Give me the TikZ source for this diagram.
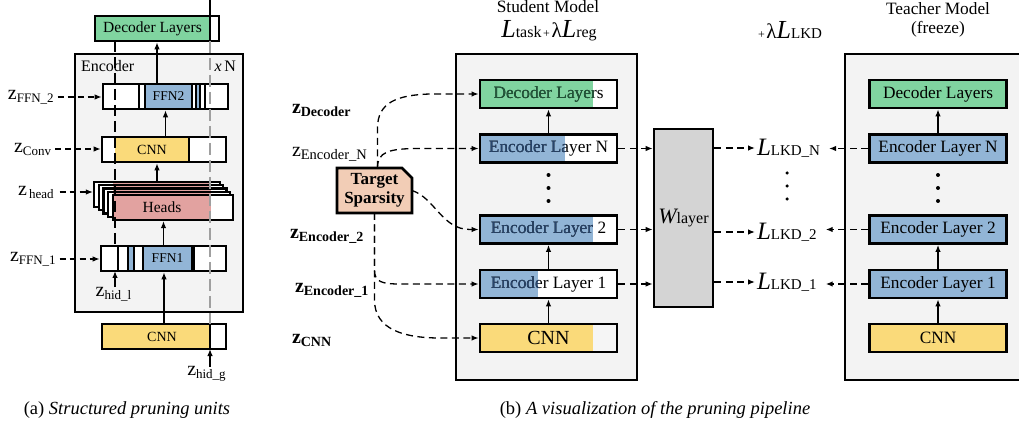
\documentclass[tikz,border=0pt]{standalone}
\usepackage{fontspec}
\setmainfont{Liberation Serif}
\usetikzlibrary{arrows.meta,calc}
\definecolor{cgreen}{RGB}{128,212,160}
\definecolor{cblue}{RGB}{146,181,214}
\definecolor{cyellow}{RGB}{250,218,122}
\definecolor{cpink}{RGB}{226,162,160}
\definecolor{cpeach}{RGB}{242,205,182}
\definecolor{cbg}{RGB}{243,243,243}
\definecolor{cwl}{RGB}{212,212,212}
\definecolor{tgreen}{RGB}{35,90,60}
\definecolor{tblue}{RGB}{40,70,110}
\newcommand\myfs[1]{\fontsize{#1}{#1}\selectfont}
\newcommand\zl[4]{{\myfs{#1}z}\raisebox{-#3}{\myfs{#2}#4}}
\begin{document}
\begin{tikzpicture}[x=1pt,y=-1pt,
  lbl/.style={inner sep=0pt, outer sep=0pt},
  bxA/.style={draw=black, line width=2.6pt, inner sep=0pt},
  bxB/.style={draw=black, line width=2.8pt, inner sep=0pt, minimum width=137, minimum height=28, font=\myfs{17.3}},
  outerbox/.style={draw=black, line width=2.6pt, fill=cbg, inner sep=0pt},
  sepl/.style={line width=1.1pt, black},
  arr/.style={-{Latex[length=7pt,width=5.5pt]}, line width=1.3pt},
  darr/.style={arr, dash pattern=on 7pt off 4.5pt},
  darrA/.style={arr, dash pattern=on 6pt off 4pt},
  dotn/.style={circle, fill=black, inner sep=0pt, minimum size=4pt},
]
\useasboundingbox (0,0) rectangle (1019,427);
\clip (0,0) rectangle (1019,427);
\fill[white] (0,0) rectangle (1019,427);

% ================= panel (a) =================
\node[outerbox, minimum width=168, minimum height=258] (encA) at (159,183) {};
\node[lbl, anchor=west, font=\myfs{16}] (encAl) at (81,66) {Encoder};
\node[lbl, anchor=east, font=\myfs{16}] (encAn) at (236,66) {\textit{x}\,N};

% decoder
\fill[cgreen] (95,16) rectangle (210,41);
\fill[white] (210,16) rectangle (219,41);
\node[bxA, minimum width=124, minimum height=25] (decA) at (157,28.5) {};
\node[lbl, font=\myfs{15.5}] (decAt) at (152.5,28.5) {Decoder Layers};

% FFN2
\fill[white] (103,84) rectangle (228,109);
\fill[cblue] (145,84) rectangle (192,109);
\fill[cblue] (196,84) rectangle (200,109);
\foreach \x in {139,145,192,196,200,205} {\draw[sepl] (\x,84) -- (\x,109);}
\node[bxA, minimum width=125, minimum height=25] (ffn2) at (165.5,96.5) {};
\node[lbl, font=\myfs{13.5}] (ffn2t) at (168.5,96.5) {FFN2};

% CNN in encoder
\fill[white] (102,137) rectangle (226,162);
\fill[cyellow] (115,137) rectangle (189,162);
\draw[sepl] (189,137) -- (189,162);
\node[bxA, minimum width=124, minimum height=25] (cnnA) at (164,149.5) {};
\node[lbl, font=\myfs{14}] (cnnAt) at (152,149.5) {CNN};

% heads stack
\foreach \i in {0,...,4} {
  \pgfmathsetmacro\hL{94+4.75*\i}
  \pgfmathsetmacro\hR{220+3.25*\i}
  \pgfmathsetmacro\hT{182+3.25*\i}
  \pgfmathsetmacro\hW{\hR-\hL}
  \pgfmathsetmacro\hX{(\hL+\hR)/2}
  \pgfmathsetmacro\hY{\hT+12.5}
  \fill[white] (\hL,\hT) rectangle (\hR,\hT+25);
  \fill[cpink] (113,\hT) rectangle (211,\hT+25);
  \node[bxA, line width=2.2pt, minimum width=\hW, minimum height=25] (h\i) at (\hX,\hY) {};
}
\node[lbl, font=\myfs{15.5}] (headt) at (162,207.5) {Heads};

% FFN1
\fill[white] (101,246) rectangle (226,271);
\fill[cblue] (128,246) rectangle (134,271);
\fill[cblue] (143,246) rectangle (192,271);
\foreach \x in {118,128,134,143,192,194} {\draw[sepl] (\x,246) -- (\x,271);}
\node[bxA, minimum width=125, minimum height=25] (ffn1) at (163.5,258.5) {};
\node[lbl, font=\myfs{13.5}] (ffn1t) at (167.5,258.5) {FFN1};

% CNN bottom
\fill[cyellow] (102,324) rectangle (210,349);
\fill[white] (210,324) rectangle (226,349);
\draw[sepl] (210,324) -- (210,349);
\node[bxA, minimum width=124, minimum height=25] (cnnB) at (164,336.5) {};
\node[lbl, font=\myfs{14}] (cnnBt) at (162,336.5) {CNN};

% guide lines
\draw[line width=1.2pt, dash pattern=on 11pt off 5pt] (115,41) -- (115,246);
\draw[line width=1.2pt, gray!75, dash pattern=on 12pt off 5pt] (210,41) -- (210,324);
\draw[line width=1.2pt] (210,0) -- (210,16);
\draw[sepl] (210,16) -- (210,41);

% arrows inside
\draw[arr] (ffn2.north -| decA.south) -- (decA.south);
\draw[arr] (cnnA.north -| ffn2.south) -- (ffn2.south);
\draw[arr] (h0.north) -- (h0.north |- cnnA.south);
\draw[arr] (ffn1.north) -- (ffn1.north |- h4.south);
\draw[arr] (cnnB.north) -- (cnnB.north |- ffn1.south);

% z labels (a)
\node[lbl, anchor=west] (zffn2) at (8,97) {\zl{20}{13}{3pt}{FFN\_2}};
\node[lbl, anchor=west] (zconv) at (14,149) {\zl{20}{13}{3pt}{Conv}};
\node[lbl, anchor=west] (zhead) at (18,192) {\zl{20}{13}{3pt}{\,head}};
\node[lbl, anchor=west] (zffn1) at (10,259) {\zl{20}{13}{3pt}{FFN\_1}};
\node[lbl] (zhidl) at (113.5,294) {\zl{20}{13}{3pt}{hid\_l}};
\node[lbl] (zhidg) at (206.5,374) {\zl{20}{13}{3pt}{hid\_g}};
\coordinate (lsplit) at (115,271);
\coordinate (gsplit) at (210,349);
\draw[darrA] ([xshift=4pt]zffn2.east) -- (zffn2.east -| ffn2.west);
\draw[darrA] ([xshift=4pt]zconv.east) -- (zconv.east -| cnnA.west);
\draw[darrA] ([xshift=6pt]zhead.east) -- (zhead.east -| h0.west);
\draw[darrA] ([xshift=4pt]zffn1.east) -- (zffn1.east -| ffn1.west);
\draw[arr] (zhidl.north -| lsplit) -- (lsplit);
\draw[arr] (zhidg.north -| gsplit) -- (gsplit);

\node[lbl, anchor=base] (capA) at (127,414) {\myfs{18.5}(a) \textit{Structured pruning units}};

% ================= panel (b) =================
\node[outerbox, minimum width=181, minimum height=326] (stu) at (546.5,217) {};
\node[outerbox, minimum width=181, minimum height=326] (tea) at (935.5,217) {};

\node[lbl, anchor=base] (stuT) at (548,12.5) {\myfs{17.3}Student Model};
\node[lbl, anchor=base] (stuL) at (549,38) {{\itshape\myfs{26}L}{\myfs{16}task}\,{\myfs{12}+}\,{\myfs{21}λ}{\itshape\myfs{26}L}{\myfs{16}reg}};
\node[lbl, anchor=base] (lkdT) at (790,39) {{\myfs{12}+}\,{\myfs{21}λ}{\itshape\myfs{26}L}{\myfs{15}LKD}};
\node[lbl, anchor=base] (teaT) at (938,15) {\myfs{17.3}Teacher Model};
\node[lbl, anchor=base] (teaF) at (938,34) {\myfs{17.3}(freeze)};

% student boxes
\fill[cgreen] (480,80) rectangle (593,108);
\fill[white] (593,80) rectangle (617,108);
\node[bxB] (decS) at (548.5,94) {Decoder Layers};
\begin{scope}\clip (480,80) rectangle (593,108);
\node[lbl, font=\myfs{17.3}, text=tgreen] (decSt) at (decS.center) {Decoder Layers};
\end{scope}

\fill[cblue] (480,134.5) rectangle (565,162.5);
\fill[white] (565,134.5) rectangle (617,162.5);
\node[bxB] (encNS) at (548.5,148.5) {Encoder Layer N};
\begin{scope}\clip (480,134.5) rectangle (565,162.5);
\node[lbl, font=\myfs{17.3}, text=tblue] (encNSt) at (encNS.center) {Encoder Layer N};
\end{scope}

\fill[cblue] (480,215.5) rectangle (593,243.5);
\fill[white] (593,215.5) rectangle (617,243.5);
\node[bxB] (enc2S) at (548.5,229.5) {Encoder Layer 2};
\begin{scope}\clip (480,215.5) rectangle (593,243.5);
\node[lbl, font=\myfs{17.3}, text=tblue] (enc2St) at (enc2S.center) {Encoder Layer 2};
\end{scope}

\fill[cblue] (480,270) rectangle (538,298);
\fill[white] (538,270) rectangle (617,298);
\node[bxB] (enc1S) at (548.5,284) {Encoder Layer 1};
\begin{scope}\clip (480,270) rectangle (538,298);
\node[lbl, font=\myfs{17.3}, text=tblue] (enc1St) at (enc1S.center) {Encoder Layer 1};
\end{scope}

\fill[cyellow] (480,324) rectangle (593,352);
\fill[white!96!black] (593,324) rectangle (617,352);
\node[bxB, font=\myfs{20}] (cnnS) at (548.5,338) {CNN};

\node[dotn] (ds1) at (548.5,175) {};
\node[dotn] (ds2) at (548.5,188) {};
\node[dotn] (ds3) at (548.5,201) {};

\draw[arr] (encNS.north) -- (decS.south);
\draw[arr] (enc1S.north) -- (enc2S.south);
\draw[arr] (cnnS.north) -- (enc1S.south);

% teacher boxes
\node[bxB, fill=cgreen] (decT) at (938,94) {Decoder Layers};
\node[bxB, fill=cblue] (encNT) at (938,148.5) {Encoder Layer N};
\node[bxB, fill=cblue] (enc2T) at (938,229.5) {Encoder Layer 2};
\node[bxB, fill=cblue] (enc1T) at (938,284) {Encoder Layer 1};
\node[bxB, fill=cyellow] (cnnT) at (938,338) {CNN};
\node[dotn] (dt1) at (938,175) {};
\node[dotn] (dt2) at (938,188) {};
\node[dotn] (dt3) at (938,201) {};
\draw[arr] (encNT.north) -- (decT.south);
\draw[arr] (enc1T.north) -- (enc2T.south);
\draw[arr] (cnnT.north) -- (enc1T.south);

% W layer
\node[draw, line width=2.6pt, fill=cwl, minimum width=59, minimum height=178, inner sep=0pt] (wl) at (683.5,218) {{\itshape\myfs{22}W}{\myfs{16}layer}};

% LKD labels
\node[lbl, anchor=west] (lkdN) at (757,148) {{\itshape\myfs{25}L}{\myfs{15}LKD\_N}};
\node[lbl, anchor=west] (lkd2) at (757,232) {{\itshape\myfs{25}L}{\myfs{15}LKD\_2}};
\node[lbl, anchor=west] (lkd1) at (757,282) {{\itshape\myfs{25}L}{\myfs{15}LKD\_1}};
\node[dotn, minimum size=3.5pt] (dl1) at (787,173) {};
\node[dotn, minimum size=3.5pt] (dl2) at (787,186) {};
\node[dotn, minimum size=3.5pt] (dl3) at (787,199) {};

\draw[darr] (encNS.east) -- (encNS.east -| wl.west);
\draw[darr] (enc2S.east) -- (enc2S.east -| wl.west);
\draw[darr] (enc1S.east) -- (enc1S.east -| wl.west);
\draw[darr] (wl.east |- lkdN.west) -- ([xshift=-2pt]lkdN.west);
\draw[darr] (wl.east |- lkd2.west) -- ([xshift=-2pt]lkd2.west);
\draw[darr] (wl.east |- lkd1.west) -- ([xshift=-2pt]lkd1.west);
\draw[darr] (encNT.west) -- ($(lkdN.east |- encNT.west)+(9,0)$);
\draw[darr] (enc2T.west) -- ($(lkd2.east |- enc2T.west)+(9,0)$);
\draw[darr] (enc1T.west) -- ($(lkd1.east |- enc1T.west)+(9,0)$);

% target sparsity
\filldraw[fill=cpeach, draw=black, line width=2.6pt, line join=miter] (337,168) -- (402,168) -- (412,178) -- (412,213) -- (337,213) -- cycle;
\node[lbl, minimum width=75, minimum height=45, align=center, font=\bfseries\fontsize{17}{19}\selectfont] (ts) at (374.5,190.5) {Target\\Sparsity};

\draw[darr] ([xshift=3pt]ts.north) -- (377.5,128) .. controls (377.5,102) and (398,95) .. (430,94) -- (decS.west);
\draw[darr] ([xshift=3pt]ts.north) .. controls (377.5,152) and (388,148.5) .. (420,148.5) -- (encNS.west);
\draw[darr] (ts.east) .. controls (435,198) and (442,229.5) .. (470,229.5) -- (enc2S.west);
\draw[darr] (ts.south) -- (374.5,270) .. controls (374.5,282) and (382,284) .. (400,284) -- (enc1S.west);
\draw[darr] (ts.south) -- (374.5,300) .. controls (374.5,330) and (405,338) .. (440,338) -- (cnnS.west);

% z labels (b)
\node[lbl, anchor=west] (zdec) at (292,110) {\bfseries\zl{20}{14}{3pt}{Decoder}};
\node[lbl, anchor=west] (zencN) at (292,154) {\zl{20}{14.5}{3pt}{Encoder\_N}};
\node[lbl, anchor=west] (zenc2) at (290,236) {\bfseries\zl{20}{14}{3pt}{Encoder\_2}};
\node[lbl, anchor=west] (zenc1) at (295,290) {\bfseries\zl{20}{14}{3pt}{Encoder\_1}};
\node[lbl, anchor=west] (zcnn) at (292,340) {\bfseries\zl{20}{14}{3pt}{CNN}};

\node[lbl, anchor=base] (capB) at (655,414) {\myfs{18.5}(b) \textit{A visualization of the pruning pipeline}};
\end{tikzpicture}
\end{document}
